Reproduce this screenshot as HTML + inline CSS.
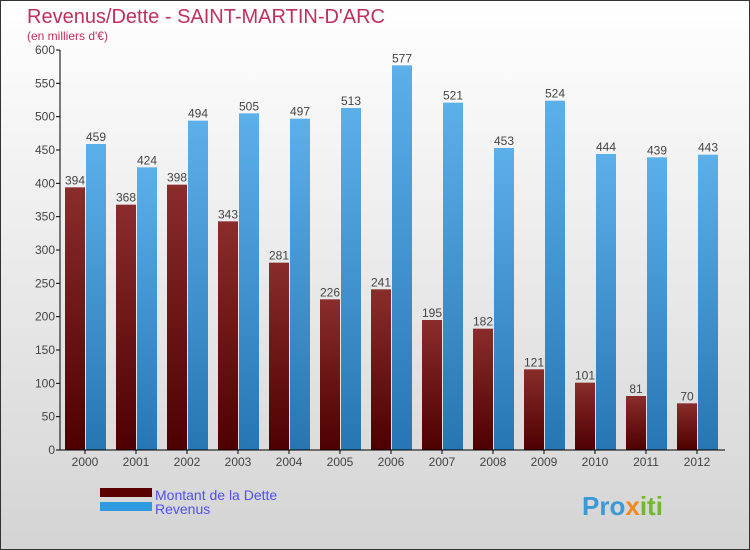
<!DOCTYPE html>
<html><head><meta charset="utf-8"><style>
body{margin:0}
#wrap{width:750px;height:550px;position:relative;overflow:hidden;font-family:"Liberation Sans",sans-serif}
</style></head><body>
<div id="wrap">
<svg id="svg" width="750" height="550" xmlns="http://www.w3.org/2000/svg">
<defs>
<linearGradient id="bg" x1="0" y1="0" x2="0" y2="1"><stop offset="0" stop-color="#ffffff"/><stop offset="1" stop-color="#d4d4d4"/></linearGradient>
<linearGradient id="gd" x1="0" y1="0" x2="0" y2="1"><stop offset="0" stop-color="#8a2c2c"/><stop offset="1" stop-color="#4e0000"/></linearGradient>
<linearGradient id="gr" x1="0" y1="0" x2="0" y2="1"><stop offset="0" stop-color="#5cb0ea"/><stop offset="1" stop-color="#2776b4"/></linearGradient>
</defs>
<rect x="0.5" y="0.5" width="749" height="549" fill="url(#bg)" stroke="#333"/>
<text x="27" y="23" font-size="20" fill="#c0305c">Revenus/Dette - SAINT-MARTIN-D'ARC</text>
<text x="27" y="40" font-size="12" fill="#c0305c">(en milliers d'€)</text>
<g id="plot"></g>
<rect x="100" y="488" width="52" height="9" fill="#5a0000"/>
<rect x="100" y="502" width="52" height="9" fill="#2f9ae0"/>
<text x="155" y="500" font-size="14" fill="#5050f0">Montant de la Dette</text>
<text x="155" y="514" font-size="14" fill="#5050f0">Revenus</text>
<text x="582" y="515" font-size="26" font-weight="bold" fill="#3a9ad8">Pro<tspan fill="#f08a20">x</tspan><tspan fill="#70b830">iti</tspan></text>
</svg>
</div>
<script>
const years=["2000","2001","2002","2003","2004","2005","2006","2007","2008","2009","2010","2011","2012"];
const dette=[394,368,398,343,281,226,241,195,182,121,101,81,70];
const revenus=[459,424,494,505,497,513,577,521,453,524,444,439,443];
const ticks=[0,50,100,150,200,250,300,350,400,450,500,550,600];
const NS="http://www.w3.org/2000/svg";
const g=document.getElementById('plot');
const y=v=>450-v*400/600;
const xc=i=>85+i*51;
function mk(t,a){const e=document.createElementNS(NS,t);for(const k in a)e.setAttribute(k,a[k]);g.appendChild(e);return e;}
ticks.forEach(t=>{
 const l=mk('line',{x1:56,x2:60,y1:y(t),y2:y(t),stroke:'#000'});
 
 
 const tx=mk('text',{x:55,y:y(t)+4,'font-size':12,'text-anchor':'end',fill:'#444'});tx.textContent=t;
 
 
});
years.forEach((yr,i)=>{
 const c=xc(i);
 const b1=mk('rect',{x:c-20,y:y(dette[i]),width:20,height:450-y(dette[i]),fill:'url(#gd)'});
 
 
 const b2=mk('rect',{x:c+1,y:y(revenus[i]),width:20,height:450-y(revenus[i]),fill:'url(#gr)'});
 
 
 const t1=mk('text',{x:c-10,y:y(dette[i])-3,'font-size':12,'text-anchor':'middle',fill:'#444'});t1.textContent=dette[i];
 
 
 const t2=mk('text',{x:c+11,y:y(revenus[i])-3,'font-size':12,'text-anchor':'middle',fill:'#444'});t2.textContent=revenus[i];
 
 
 const tk=mk('line',{x1:c,x2:c,y1:450,y2:454,stroke:'#000'});
 
 
 const xl=mk('text',{x:c,y:466,'font-size':12,'text-anchor':'middle',fill:'#444'});xl.textContent=yr;
 
 
});
const ax=mk('line',{x1:60,x2:60,y1:50,y2:450,stroke:'#000'});


const bx=mk('line',{x1:60,x2:725,y1:450,y2:450,stroke:'#000'});


</script>
</body></html>
